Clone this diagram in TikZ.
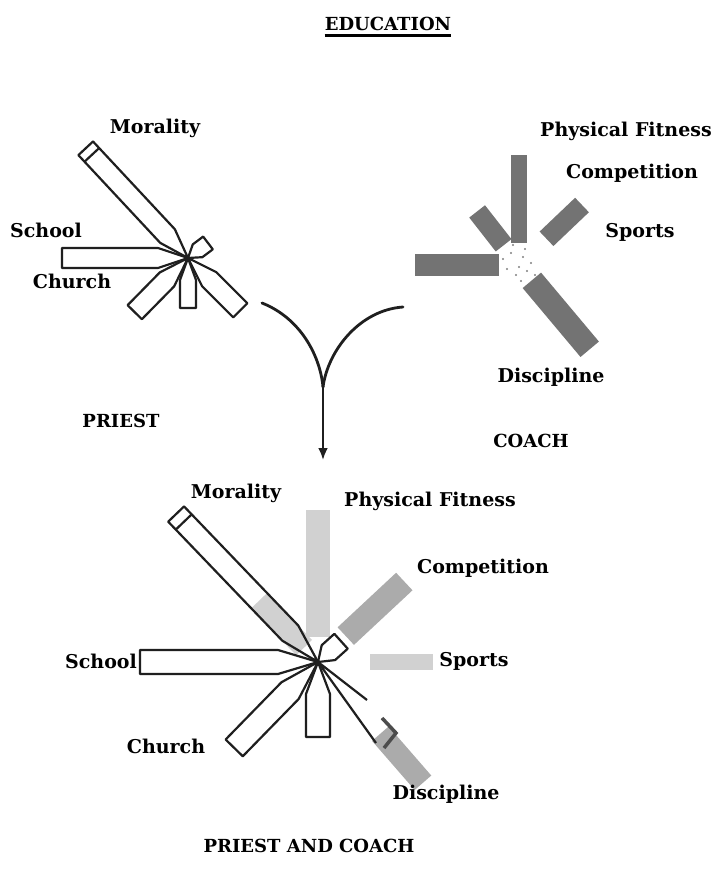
\documentclass[tikz,border=0pt]{standalone}
\usepackage{fontspec}
\setmainfont{DejaVu Serif}
\usetikzlibrary{calc,arrows.meta}
\tikzset{
  lbl/.style={font=\bfseries\fontsize{19}{22}\selectfont, inner sep=0pt, anchor=center},
  caplbl/.style={font=\bfseries\fontsize{18}{22}\selectfont, inner sep=0pt, anchor=center},
  outl/.style={draw=black!88, line width=2.2pt, line join=round},
  coachfill/.style={fill=black!55, draw=none},
  lightfill/.style={fill=black!18, draw=none},
  midfill/.style={fill=black!33, draw=none},
  speck/.style={fill=black!50, draw=none},
  conn/.style={draw=black!88, line width=2.8pt, line cap=round},
}
% wedge arm: #1 centre, #2 angle, #3 length, #4 half width, #5 taper, #6 style
\newcommand\myarm[6]{%
  \path[#6] (#1) -- ($(#1)+(#2:#5)+({#2+90}:#4)$) -- ($(#1)+(#2:#3)+({#2+90}:#4)$)
   -- ($(#1)+(#2:#3)+({#2-90}:#4)$) -- ($(#1)+(#2:#5)+({#2-90}:#4)$) -- cycle;}
% straight bar: #1 centre, #2 angle, #3 start, #4 end, #5 half width, #6 style
\newcommand\mybar[6]{%
  \path[#6] ($(#1)+(#2:#3)+({#2+90}:#5)$) -- ($(#1)+(#2:#4)+({#2+90}:#5)$)
   -- ($(#1)+(#2:#4)+({#2-90}:#5)$) -- ($(#1)+(#2:#3)+({#2-90}:#5)$) -- cycle;}
% cross line near end of arm
\newcommand\mycross[5]{%
  \draw[#5] ($(#1)+(#2:#3)+({#2+90}:#4)$) -- ($(#1)+(#2:#3)+({#2-90}:#4)$);}
\begin{document}
\begin{tikzpicture}[x=1pt,y=-1pt]
\useasboundingbox (0,0) rectangle (722,881);
\fill[white] (0,0) rectangle (722,881);

% ---------- title
\node[caplbl] (title) at (388,24) {EDUCATION};
\draw[line width=3pt] ([yshift=-4pt]title.south west) -- ([yshift=-4pt]title.south east);

% ---------- PRIEST glyph
\coordinate (P) at (188,258);
\myarm{P}{227}{150}{10}{30}{outl}
\mycross{P}{227}{141}{10}{outl}
\myarm{P}{180}{126}{10}{30}{outl}
\myarm{P}{134.5}{76}{10}{30}{outl}
\myarm{P}{90}{50}{8}{22}{outl}
\myarm{P}{45}{74}{10}{30}{outl}
\myarm{P}{-37}{25}{8}{12}{outl}

\node[lbl] (pm) at (155,128) {Morality};
\node[lbl] (ps) at (46,230) {School};
\node[lbl] (pc) at (72,281) {Church};
\node[caplbl] (priest) at (121,421) {PRIEST};

% ---------- COACH glyph
\coordinate (K) at (519,265);
\mybar{K}{-90}{22}{110}{8}{coachfill}
\mybar{K}{232}{25}{68}{10}{coachfill}
\mybar{K}{180}{20}{104}{11}{coachfill}
\mybar{K}{-43.6}{38}{87}{10}{coachfill}
\mybar{K}{50}{20}{110}{12}{coachfill}
\foreach \dx/\dy in {-8/-12, 4/-8, -12/4, 8/6, -3/10, 12/-2, 2/16, -16/-6, 6/-16, -6/-20, 16/10, 0/2}
  \fill[speck] ($(K)+(\dx,\dy)$) circle (1.2);

\node[lbl] (kf) at (626,131) {Physical Fitness};
\node[lbl] (kc) at (632,173) {Competition};
\node[lbl] (ks) at (640,232) {Sports};
\node[lbl] (kd) at (551,377) {Discipline};
\node[caplbl] (coach) at (531,441) {COACH};

% ---------- merging arrow
\coordinate (aL) at (262,303);
\coordinate (aR) at (403,307);
\coordinate (aJ) at (323,387);
\coordinate (aE) at (323,460);
\draw[conn] (aL) .. controls (300,318) and (320,355) .. (aJ);
\draw[conn] (aR) .. controls (360,310) and (328,350) .. (aJ);
\draw[conn, -{Latex[length=12pt,width=10pt]}] (aJ) -- (aE);

% ---------- combined glyph
\coordinate (B) at (318,662);
% coach parts (stippled grey)
\mybar{B}{-90}{25}{152}{12}{lightfill}
\mybar{B}{226}{20}{85}{11}{lightfill}
\mybar{B}{-43}{38}{118}{12}{midfill}
\mybar{B}{0}{52}{115}{8}{lightfill}
\mybar{B}{49}{95}{160}{11}{midfill}
% priest parts (outlines)
\myarm{B}{226.2}{205}{11}{40}{outl}
\mycross{B}{226.2}{194}{11}{outl}
\myarm{B}{180}{178}{12}{40}{outl}
\myarm{B}{134.3}{120}{12}{40}{outl}
\myarm{B}{90}{75}{12}{32}{outl}
\myarm{B}{-42}{31}{10}{14}{outl}
\coordinate (dr1) at (367,700);
\coordinate (dr2) at (376,743);
\draw[outl] (dr1) -- (B) -- (dr2);
\draw[draw=black!70, line width=3.5pt, line join=miter] (382,718) -- (396,733) -- (384,748);

\node[lbl] (bm) at (236,493) {Morality};
\node[lbl] (bf) at (430,501) {Physical Fitness};
\node[lbl] (bc) at (483,568) {Competition};
\node[lbl] (bs) at (101,661) {School};
\node[lbl] (bsp) at (474,661) {Sports};
\node[lbl] (bch) at (166,746) {Church};
\node[lbl] (bd) at (446,794) {Discipline};
\node[caplbl] (both) at (309,846) {PRIEST AND COACH};
\end{tikzpicture}
\end{document}
